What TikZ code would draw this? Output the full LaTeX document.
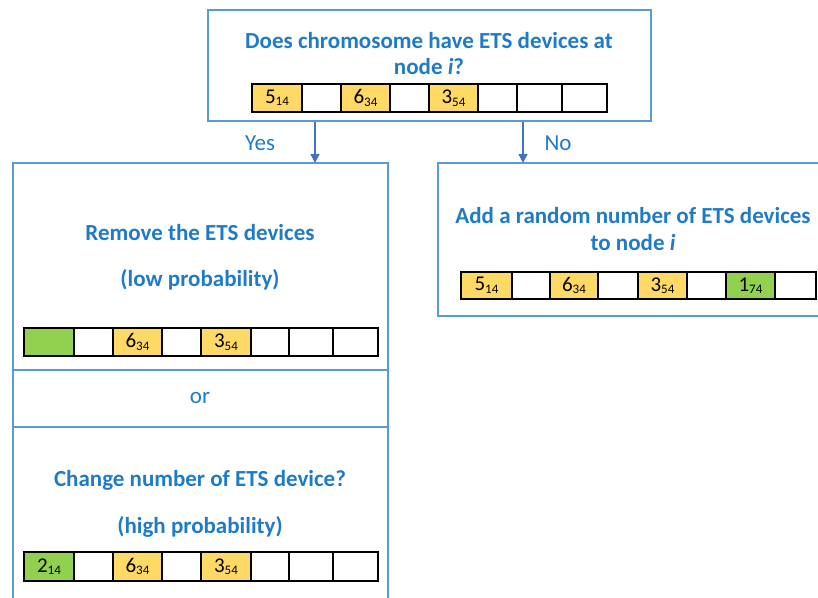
\documentclass[tikz,border=0pt]{standalone}
\usepackage{fontspec}
\setmainfont{Carlito}
\usetikzlibrary{arrows.meta}
\definecolor{boxblue}{HTML}{5B9BD5}
\definecolor{txtblue}{HTML}{1F7BC8}
\definecolor{arrblue}{HTML}{4472C4}
\definecolor{ylw}{HTML}{FFD966}
\definecolor{grn}{HTML}{92D050}
\tikzset{
  frame/.style={draw=boxblue, line width=1.4pt},
  heading/.style={text=txtblue, font=\fontsize{23}{26}\selectfont\bfseries, align=center, inner sep=0pt},
  plainlabel/.style={text=txtblue, font=\fontsize{23}{26}\selectfont, inner sep=0pt},
  cellbox/.style={draw=black, line width=1.1pt, inner sep=0pt, minimum height=28pt, font=\fontsize{21}{21}\selectfont},
  flow/.style={draw=arrblue, line width=1.4pt, -{Triangle[length=9pt,width=9pt]}},
}
\newcommand\dv[2]{#1\raisebox{-2.5pt}{\fontsize{13}{13}\selectfont #2}}
\begin{document}
\begin{tikzpicture}[x=1pt,y=-1pt]
\useasboundingbox (0,0) rectangle (818,597);

% question box
\node[frame, minimum width=443pt, minimum height=111pt, inner sep=0pt] (q) at (429.5,65.5) {};
\node[heading] (qt1) at (429,41) {Does chromosome have ETS devices at};
\node[heading] (qt2) at (429,67) {node \textit{i}?};
\foreach \i/\xa/\xb/\f/\t in {1/252/302/ylw/{\dv{5}{14}},2/302/341/white/{},3/341/390/ylw/{\dv{6}{34}},4/390/429/white/{},5/429/478/ylw/{\dv{3}{54}},6/478/517/white/{},7/517/562/white/{},8/562/607/white/{}}
  \node[cellbox, fill=\f, minimum width={(\xb-\xa)*1pt}] (q\i) at ({(\xa+\xb)/2},98) {\t};

% left branch: remove / change
\draw[frame] (13,598) -- (13,163) -- (388,163) -- (388,598);
\draw[frame] (13,370) -- (388,370);
\draw[frame] (13,427) -- (388,427);
\coordinate (ltop) at (315,163);
\node[heading] (l1) at (200,233) {Remove the ETS devices};
\node[heading] (l2) at (200,280) {(low probability)};
\node[plainlabel] (lor) at (200,398) {or};
\node[heading] (l3) at (200,480) {Change number of ETS device?};
\node[heading] (l4) at (200,527) {(high probability)};
\foreach \i/\xa/\xb/\f/\t in {1/24/74/grn/{},2/74/113/white/{},3/113/162/ylw/{\dv{6}{34}},4/162/201/white/{},5/201/251/ylw/{\dv{3}{54}},6/251/289/white/{},7/289/333/white/{},8/333/378/white/{}}
  \node[cellbox, fill=\f, minimum width={(\xb-\xa)*1pt}] (a\i) at ({(\xa+\xb)/2},342) {\t};
\foreach \i/\xa/\xb/\f/\t in {1/24/74/grn/{\dv{2}{14}},2/74/113/white/{},3/113/162/ylw/{\dv{6}{34}},4/162/201/white/{},5/201/251/ylw/{\dv{3}{54}},6/251/289/white/{},7/289/333/white/{},8/333/378/white/{}}
  \node[cellbox, fill=\f, minimum width={(\xb-\xa)*1pt}, minimum height=29pt] (b\i) at ({(\xa+\xb)/2},566.5) {\t};

% right branch: add
\draw[frame] (819,163) -- (438,163) -- (438,316) -- (819,316);
\coordinate (rtop) at (523,163);
\node[heading] (r1) at (633,216) {Add a random number of ETS devices};
\node[heading] (r2) at (633,243) {to node \textit{i}};
\foreach \i/\xa/\xb/\f/\t in {1/461/512/ylw/{\dv{5}{14}},2/512/550/white/{},3/550/598/ylw/{\dv{6}{34}},4/598/638/white/{},5/638/687/ylw/{\dv{3}{54}},6/687/726/white/{},7/726/775/grn/{\dv{1}{74}},8/775/816/white/{}}
  \node[cellbox, fill=\f, minimum width={(\xb-\xa)*1pt}, minimum height=27pt] (c\i) at ({(\xa+\xb)/2},285.5) {\t};

% decision arrows
\draw[flow] (q.south -| ltop) -- (ltop);
\draw[flow] (q.south -| rtop) -- (rtop);
\node[plainlabel] (yes) at (260,143) {Yes};
\node[plainlabel] (no) at (558,143) {No};
\end{tikzpicture}
\end{document}
